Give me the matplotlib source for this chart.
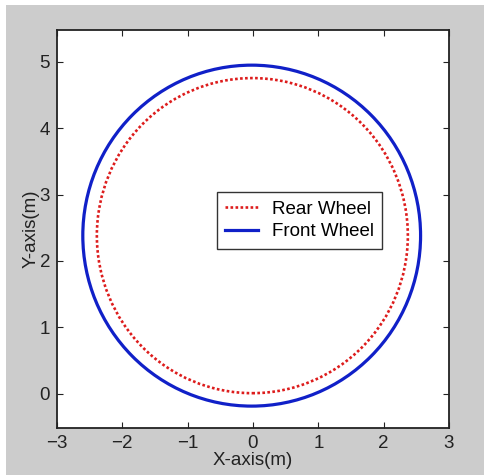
import matplotlib
matplotlib.use("Agg")
import matplotlib.pyplot as plt
from matplotlib.patches import Ellipse, Rectangle
from matplotlib.lines import Line2D

# wheel paths: centre (x, y), width, height
names = ["Rear Wheel", "Front Wheel"]
centers = [(-0.01, 2.38), (-0.02, 2.38)]
widths = [4.76, 5.17]
heights = [4.75, 5.14]
colors = ["#dd1c1c", "#1020c8"]
styles = [(0, (1.0, 0.9)), "-"]
lws = [1.9, 2.3]

xticks = [-3, -2, -1, 0, 1, 2, 3]
yticks = [0, 1, 2, 3, 4, 5]

plt.rcParams['font.family'] = ['Liberation Sans', 'DejaVu Sans']

fig = plt.figure(figsize=(4.84, 4.75), dpi=100, facecolor="white")
fig.patches.append(Rectangle((6 / 484, 0), 1, 470 / 475, transform=fig.transFigure,
                             facecolor="#cccccc", edgecolor="none", zorder=-1))
ax = fig.add_axes([57 / 484, 47 / 475, 392 / 484, 398 / 475])

handles = []
for i in range(2):
    e = Ellipse(centers[i], widths[i], heights[i], fill=False,
                edgecolor=colors[i], linestyle=styles[i], linewidth=lws[i])
    ax.add_patch(e)
    handles.append(Line2D([], [], color=colors[i], linestyle=styles[i], linewidth=lws[i]))

ax.set_xlim(-3, 3)
ax.set_ylim(-0.52, 5.48)
ax.set_xticks(xticks)
ax.set_yticks(yticks)
ax.tick_params(direction="in", top=True, right=True, length=4, labelsize=13.5,
               colors="#222222", pad=5)
for s in ax.spines.values():
    s.set_linewidth(1.3)
    s.set_color("#222222")
ax.set_xlabel("X-axis(m)", fontsize=13.5, labelpad=0, color="#222222")
ax.set_ylabel("Y-axis(m)", fontsize=13.5, labelpad=0, color="#222222")

leg = ax.legend(handles, names, loc="upper left", bbox_to_anchor=(0.407, 0.592),
                borderaxespad=0, fancybox=False, fontsize=13.5, handlelength=1.75,
                labelspacing=0.28, borderpad=0.45, handletextpad=0.75)
leg.get_frame().set_edgecolor("black")
leg.get_frame().set_linewidth(1.0)

plt.savefig("out.png", dpi=100, facecolor=fig.get_facecolor())
